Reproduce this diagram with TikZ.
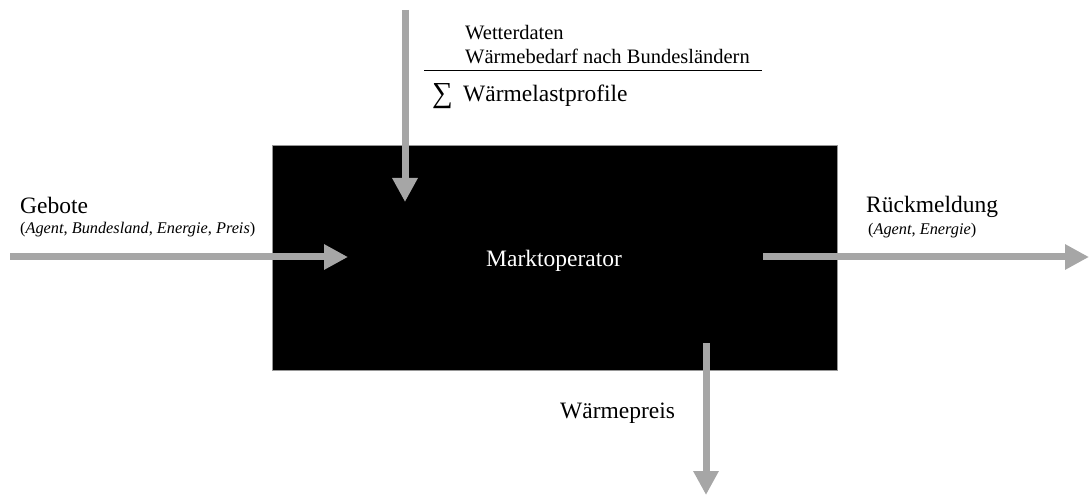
\documentclass[tikz,border=0pt]{standalone}
\usepackage{fontspec}
\setmainfont{Liberation Serif}
\usetikzlibrary{arrows.meta}
\tikzset{
  flow/.style={draw={rgb,255:red,166;green,166;blue,166}, line width=7pt,
    -{Triangle[width=24pt,length=24pt]}},
  big/.style={font=\fontsize{23.5}{27}\selectfont, inner sep=0pt, anchor=base west},
  mid/.style={font=\fontsize{20.5}{24}\selectfont, inner sep=0pt, anchor=base west},
  small/.style={font=\fontsize{16.3}{19}\selectfont, inner sep=0pt, anchor=base west},
  opbox/.style={fill=black, draw={rgb,255:red,150;green,150;blue,150}, line width=0.8pt,
    minimum width=565pt, minimum height=225pt, inner sep=0pt}
}
\begin{document}
\begin{tikzpicture}[x=1pt,y=-1pt]
\useasboundingbox (0,0) rectangle (1090,497);
\node[opbox] (mo) at (554.5,257.5) {};
\node[big, text=white] (mot) at (486,266) {Marktoperator};
% inputs top
\node[mid] (wd) at (465,40) {Wetterdaten};
\node[mid] (wb) at (465,64) {Wärmebedarf nach Bundesländern};
\coordinate (l1) at (424,71);
\coordinate (l2) at (762,71);
\draw[line width=1pt] (l1) -- (l2);
\node[big, font=\fontsize{29}{30}\selectfont] (sig) at (432,103) {∑};
\node[big] (wl) at (463,102) {Wärmelastprofile};
% left
\node[big] (geb) at (20,214) {Gebote};
\node[small] (gebp) at (20,234) {(\textit{Agent}, \textit{Bundesland}, \textit{Energie}, \textit{Preis})};
% right
\node[big] (rm) at (866,213) {Rückmeldung};
\node[small] (rmp) at (868,235) {(\textit{Agent}, \textit{Energie})};
% bottom
\node[big] (wp) at (560,418) {Wärmepreis};
% arrow coordinates
\coordinate (gs) at (10,257);
\coordinate (ge) at (348,257);
\coordinate (ts) at (405,10);
\coordinate (te) at (405,202);
\coordinate (rs) at (763,257);
\coordinate (re) at (1089,257);
\coordinate (bs) at (706,343);
\coordinate (be) at (706,495);
\draw[flow] (gs) -- (ge);
\draw[flow] (ts) -- (te);
\draw[flow] (rs) -- (re);
\draw[flow] (bs) -- (be);
\end{tikzpicture}
\end{document}
